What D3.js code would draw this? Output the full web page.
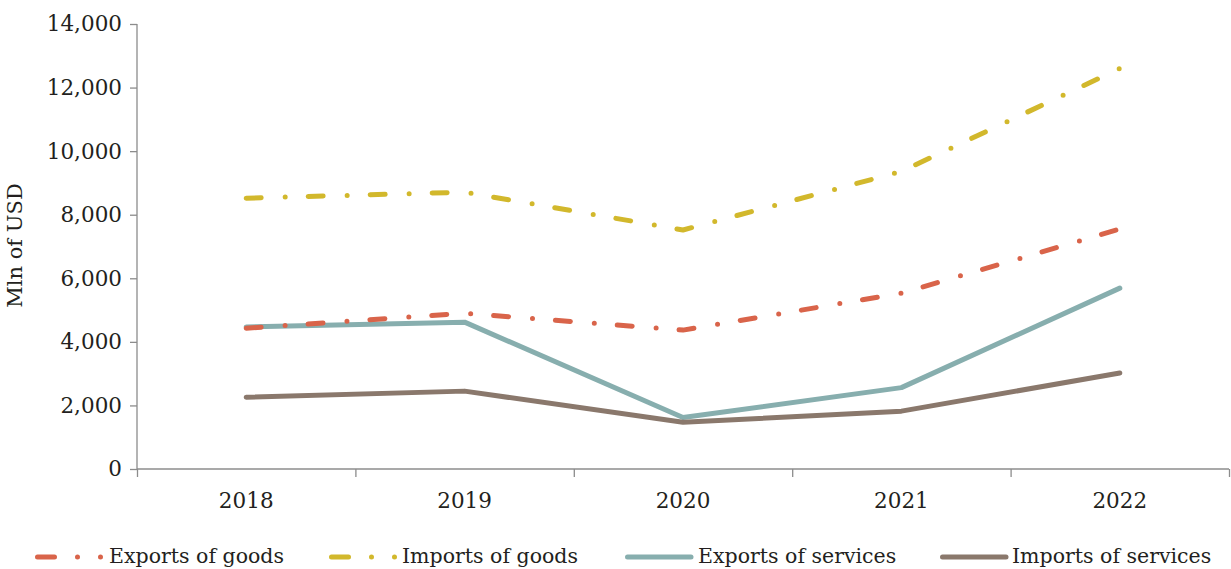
<html>
<head>
<meta charset="utf-8">
<title>Trade</title>
<style>
body { margin: 0; background: white; }
svg text { font-family: "DejaVu Serif", serif; fill: #231f20; }
.axis path, .axis line { stroke: #8c8c8c; stroke-width: 1.3px; }
.axis text { font-size: 21.5px; }
.line { fill: none; stroke-width: 5px; stroke-linecap: round; stroke-linejoin: round; }
.legend text { font-size: 20.5px; }
</style>
</head>
<body>
<svg id="chart" width="1231" height="569"></svg>
<script src="https://cdn.jsdelivr.net/npm/d3@7"></script>
<script>

var years = ["2018", "2019", "2020", "2021", "2022"];
var exportsGoods = [4430, 4900, 4370, 5530, 7550];
var importsGoods = [8520, 8710, 7520, 9360, 12600];
var exportsServices = [4470, 4620, 1620, 2560, 5690];
var importsServices = [2260, 2450, 1470, 1820, 3020];
var yTicks = [0, 2000, 4000, 6000, 8000, 10000, 12000, 14000];

var series = [
  {name: "Exports of goods", values: exportsGoods, color: "#d9644a", dash: "15,24,0,23"},
  {name: "Imports of goods", values: importsGoods, color: "#d2b82c", dash: "15,24,0,23"},
  {name: "Exports of services", values: exportsServices, color: "#87aeae", dash: null},
  {name: "Imports of services", values: importsServices, color: "#8a786c", dash: null}
];

var margin = {top: 24, left: 137, right: 2, bottom: 100};
var width = 1231 - margin.left - margin.right;
var height = 569 - margin.top - margin.bottom;

var svg = d3.select("#chart");
var g = svg.append("g")
    .attr("transform", "translate(" + margin.left + "," + margin.top + ")");

var x = d3.scaleBand().domain(years).range([0, width]);
var xEdges = d3.scaleLinear().domain([0, years.length]).range([0, width]);
var y = d3.scaleLinear().domain([0, 14000]).range([height, 0]);

// y axis
g.append("g")
    .attr("class", "axis")
    .call(d3.axisLeft(y).tickValues(yTicks).tickSize(7).tickPadding(8).tickFormat(d3.format(",")))
    .call(function(s) { s.select(".domain").attr("d", "M0,0V" + height); })
    .attr("font-family", null).attr("font-size", null);

// x axis: boundary ticks + labels
g.append("g")
    .attr("class", "axis")
    .attr("transform", "translate(0," + height + ")")
    .call(d3.axisBottom(xEdges).tickValues(d3.range(years.length + 1)).tickSize(8).tickFormat(""))
    .call(function(s) { s.select(".domain").attr("d", "M0,0H" + width); });

g.append("g")
    .attr("class", "axis")
    .attr("transform", "translate(0," + height + ")")
    .call(d3.axisBottom(x).tickSize(0).tickPadding(24))
    .call(function(s) { s.select(".domain").remove(); })
    .attr("font-family", null).attr("font-size", null);

// y label
g.append("text")
    .attr("transform", "translate(" + (-115) + "," + (height / 2 - 1) + ") rotate(-90)")
    .attr("text-anchor", "middle")
    .style("font-size", "21px")
    .text("Mln of USD");

var line = d3.line()
    .x(function(d, i) { return x(years[i]) + x.bandwidth() / 2; })
    .y(function(d) { return y(d); });

// solid lines first so the dashed ones sit on top where they cross
[2, 3, 0, 1].forEach(function(k) {
  var s = series[k];
  g.append("path")
      .datum(s.values)
      .attr("class", "line")
      .attr("stroke", s.color)
      .attr("stroke-dasharray", s.dash)
      .attr("d", line);
});

// legend
var legendX = [35, 329, 625, 940];
var legendW = [67, 66, 68, 68];
var legendText = [109, 402, 698, 1012];
var legend = svg.append("g").attr("class", "legend");
series.forEach(function(s, i) {
  var lg = legend.append("g").attr("transform", "translate(0,557)");
  lg.append("path")
      .attr("class", "line")
      .attr("stroke", s.color)
      .attr("stroke-width", 4.5)
      .attr("stroke-dasharray", s.dash ? "17,23,0,23,0,100" : null)
      .attr("d", "M" + (legendX[i] + 2.5) + ",0H" + (legendX[i] + legendW[i] + (s.dash ? 1 : -2)));
  lg.append("text")
      .attr("x", legendText[i])
      .attr("y", 6)
      .text(s.name);
});

</script>
</body>
</html>
